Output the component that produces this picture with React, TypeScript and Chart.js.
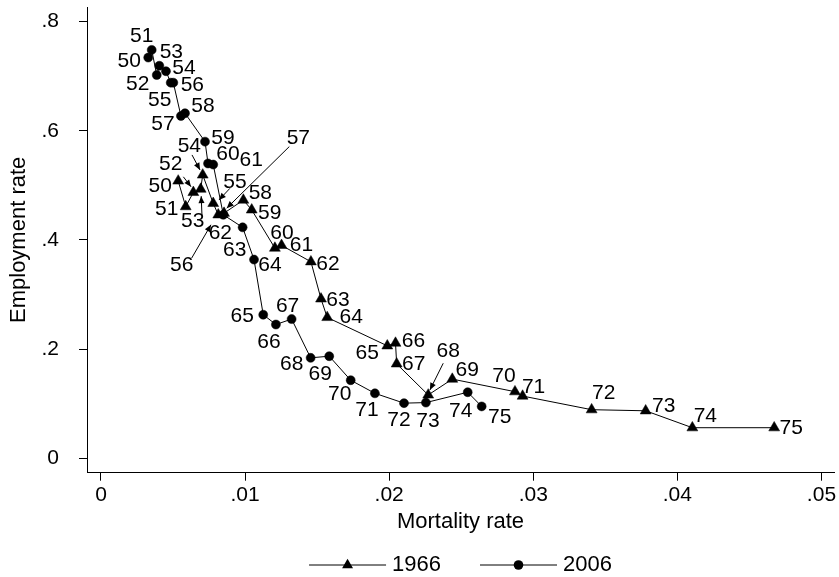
import React, { useEffect, useRef } from "react";
import { Chart, registerables } from "chart.js";

Chart.register(...registerables);

// ---------- data ----------
const ages = [50, 51, 52, 53, 54, 55, 56, 57, 58, 59, 60, 61, 62, 63, 64, 65, 66, 67, 68, 69, 70, 71, 72, 73, 74, 75];

const mortality1966 = [
  0.00536, 0.00588, 0.00641, 0.00692, 0.00706, 0.00779, 0.00814, 0.00854, 0.00988, 0.01046,
  0.01207, 0.01253, 0.01457, 0.01527, 0.0157, 0.01987, 0.02044, 0.02052, 0.02271, 0.02438,
  0.02873, 0.02926, 0.03405, 0.0378, 0.04104, 0.04672,
];
const employment1966 = [
  0.508, 0.461, 0.487, 0.493, 0.519, 0.467, 0.446, 0.449, 0.473, 0.455,
  0.385, 0.39, 0.36, 0.292, 0.258, 0.206, 0.211, 0.173, 0.116, 0.145,
  0.122, 0.114, 0.089, 0.087, 0.056, 0.056,
];

const mortality2006 = [
  0.00328, 0.00352, 0.00387, 0.00405, 0.00451, 0.00484, 0.00502, 0.00555, 0.00583, 0.00722,
  0.00743, 0.00779, 0.00849, 0.00983, 0.01062, 0.01126, 0.01214, 0.01323, 0.01455, 0.01584,
  0.01733, 0.01901, 0.02103, 0.02255, 0.02545, 0.02642,
];
const employment2006 = [
  0.734, 0.748, 0.702, 0.719, 0.709, 0.688, 0.688, 0.627, 0.632, 0.58,
  0.54, 0.538, 0.446, 0.423, 0.364, 0.263, 0.245, 0.255, 0.184, 0.187,
  0.143, 0.119, 0.101, 0.102, 0.121, 0.095,
];

const seriesNames = ["1966", "2006"];

const xTickValues = [0, 0.01, 0.02, 0.03, 0.04, 0.05];
const xTickLabels = ["0", ".01", ".02", ".03", ".04", ".05"];
const yTickValues = [0, 0.2, 0.4, 0.6, 0.8];
const yTickLabels = ["0", ".2", ".4", ".6", ".8"];

const xTitle = "Mortality rate";
const yTitle = "Employment rate";

// ---------- label placement (pixel offsets of the age label from its marker;
// six numbers = label offset, arrow start offset, arrow end offset) ----------
const place1966: number[][] = [
  [-18, 5],
  [-19, 3],
  [-22.6, -28, -10, -15.6, -2.3, -5.6],
  [-8, 32.4, 1.3, 26.7, 0.5, 7],
  [-13.4, -28.3, -10.7, -20, -2.7, -5],
  [21.7, -21.6, 16.7, -15, 5.7, -3.3],
  [-36.6, 50, -26.6, 43.3, -7.3, 10],
  [74.3, -75, 65.3, -66.6, 2.7, -5],
  [17, -7],
  [18, 3],
  [7, -15],
  [20, 0],
  [17, 2],
  [17, 1],
  [24, 0],
  [-20, 7],
  [18, -2],
  [17, 0],
  [20, -43.3, 15, -31.7, 1.7, -5],
  [15, -9],
  [-11, -15],
  [11, -9],
  [12, -16],
  [18, -5],
  [13, -12],
  [17, 0],
];
const place2006: number[][] = [
  [-19, 4],
  [-10, -14],
  [-19, 9],
  [12, -14],
  [18, -3],
  [-11, 18],
  [19, 3],
  [-18, 8],
  [18, -7],
  [18, -3],
  [20, -9],
  [38, -4.5],
  [-3, 18],
  [-8, 23],
  [16, 6],
  [-21, 2],
  [-7, 18],
  [-4, -13],
  [-19, 6],
  [-9, 18],
  [-11, 14],
  [-8, 17],
  [-5, 17],
  [2, 19],
  [-7, 19],
  [18, 11],
];

const FONT = "'Liberation Sans', Arial, Helvetica, sans-serif";

const labelPlugin = {
  id: "ageLabels",
  afterDatasetsDraw(chart: any) {
    const ctx = chart.ctx as CanvasRenderingContext2D;
    const places = [place1966, place2006];
    ctx.save();
    ctx.font = `21px ${FONT}`;
    ctx.fillStyle = "#000";
    ctx.strokeStyle = "#000";
    ctx.lineWidth = 1;
    ctx.textAlign = "center";
    ctx.textBaseline = "middle";
    chart.data.datasets.forEach((ds: any, di: number) => {
      const meta = chart.getDatasetMeta(di);
      meta.data.forEach((el: any, i: number) => {
        const p = places[di][i];
        if (!p) return;
        const px = el.x;
        const py = el.y;
        ctx.fillText(String(ages[i]), px + p[0], py + p[1]);
        if (p.length === 6) {
          const sx = px + p[2];
          const sy = py + p[3];
          const ex = px + p[4];
          const ey = py + p[5];
          ctx.beginPath();
          ctx.moveTo(sx, sy);
          ctx.lineTo(ex, ey);
          ctx.stroke();
          const ang = Math.atan2(ey - sy, ex - sx);
          const L = 7;
          const W = 3;
          ctx.beginPath();
          ctx.moveTo(ex, ey);
          ctx.lineTo(ex - L * Math.cos(ang) + W * Math.sin(ang), ey - L * Math.sin(ang) - W * Math.cos(ang));
          ctx.lineTo(ex - L * Math.cos(ang) - W * Math.sin(ang), ey - L * Math.sin(ang) + W * Math.cos(ang));
          ctx.closePath();
          ctx.fill();
        }
      });
    });
    ctx.restore();
  },
};

const legendPlugin = {
  id: "lineLegend",
  afterDraw(chart: any) {
    const ctx = chart.ctx as CanvasRenderingContext2D;
    const area = chart.chartArea;
    const y = 565;
    const lineLen = 77;
    const gapText = 6;
    const gapItems = 39;
    ctx.save();
    ctx.font = `22px ${FONT}`;
    const widths = seriesNames.map((n) => ctx.measureText(n).width);
    const total = lineLen * 2 + gapText * 2 + gapItems + widths[0] + widths[1];
    let x = (area.left + area.right) / 2 - total / 2;
    ctx.strokeStyle = "#000";
    ctx.fillStyle = "#000";
    ctx.lineWidth = 1;
    seriesNames.forEach((name, i) => {
      ctx.beginPath();
      ctx.moveTo(x, y);
      ctx.lineTo(x + lineLen, y);
      ctx.stroke();
      const mx = x + lineLen / 2;
      ctx.beginPath();
      if (i === 0) {
        const r = 6.3;
        ctx.moveTo(mx, y - r);
        ctx.lineTo(mx + r * Math.sin((2 * Math.PI) / 3), y + r / 2);
        ctx.lineTo(mx - r * Math.sin((2 * Math.PI) / 3), y + r / 2);
        ctx.closePath();
      } else {
        ctx.arc(mx, y, 4.8, 0, Math.PI * 2);
      }
      ctx.fill();
      ctx.textAlign = "left";
      ctx.textBaseline = "middle";
      ctx.fillText(name, x + lineLen + gapText, y);
      x += lineLen + gapText + widths[i] + gapItems;
    });
    ctx.restore();
  },
};

const zeroPad = (s: any) => {
  s.paddingTop = 0;
  s.paddingBottom = 0;
  s.paddingLeft = 0;
  s.paddingRight = 0;
};

export default function App() {
  const canvasRef = useRef<HTMLCanvasElement | null>(null);

  useEffect(() => {
    if (!canvasRef.current) return;
    const d1966 = mortality1966.map((m, i) => ({ x: m, y: employment1966[i] }));
    const d2006 = mortality2006.map((m, i) => ({ x: m, y: employment2006[i] }));

    const chart = new Chart(canvasRef.current, {
      type: "scatter",
      data: {
        datasets: [
          {
            label: seriesNames[0],
            data: d1966,
            showLine: true,
            borderColor: "#000",
            borderWidth: 1,
            backgroundColor: "#000",
            pointStyle: "triangle",
            pointRadius: 6.3,
            pointBorderWidth: 0.5,
            pointBorderColor: "#000",
            pointBackgroundColor: "#000",
          },
          {
            label: seriesNames[1],
            data: d2006,
            showLine: true,
            borderColor: "#000",
            borderWidth: 1,
            backgroundColor: "#000",
            pointStyle: "circle",
            pointRadius: 4.5,
            pointBorderWidth: 0.5,
            pointBorderColor: "#000",
            pointBackgroundColor: "#000",
          },
        ],
      },
      options: {
        animation: false,
        responsive: false,
        devicePixelRatio: 1,
        layout: { autoPadding: false, padding: { top: 7, right: 5, left: 0, bottom: 0 } },
        plugins: {
          legend: { display: false },
          tooltip: { enabled: false },
        },
        scales: {
          x: {
            type: "linear",
            min: -0.00097,
            max: 0.05087,
            afterBuildTicks: (s: any) => {
              s.ticks = xTickValues.map((v) => ({ value: v }));
            },
            afterFit: (s: any) => {
              s.height = 104.3;
              zeroPad(s);
            },
            ticks: {
              callback: (_v: any, i: number) => xTickLabels[i],
              font: { family: FONT, size: 21 },
              color: "#000",
              padding: 2,
              maxRotation: 0,
              autoSkip: false,
            },
            grid: {
              drawOnChartArea: false,
              drawTicks: true,
              tickLength: 8,
              tickColor: "#000",
              color: "#000",
            },
            border: { display: true, color: "#000", width: 1 },
            title: {
              display: true,
              text: xTitle,
              color: "#000",
              font: { family: FONT, size: 22 },
              padding: { top: 0, bottom: 42 },
            },
          },
          y: {
            type: "linear",
            min: -0.0264,
            max: 0.8266,
            afterBuildTicks: (s: any) => {
              s.ticks = yTickValues.map((v) => ({ value: v }));
            },
            afterFit: (s: any) => {
              s.width = 87;
              zeroPad(s);
            },
            ticks: {
              callback: (_v: any, i: number) => yTickLabels[i],
              font: { family: FONT, size: 21 },
              color: "#000",
              padding: 20,
              autoSkip: false,
            },
            grid: {
              drawOnChartArea: false,
              drawTicks: true,
              tickLength: 8,
              tickColor: "#000",
              color: "#000",
            },
            border: { display: true, color: "#000", width: 1 },
            title: {
              display: true,
              text: yTitle,
              color: "#000",
              font: { family: FONT, size: 22 },
              padding: { top: 6, bottom: 0 },
            },
          },
        },
      },
      plugins: [labelPlugin, legendPlugin],
    });
    return () => chart.destroy();
  }, []);

  return (
    <div style={{ position: "absolute", left: 0, top: 0, width: 839, height: 577, background: "#fff" }}>
      <canvas ref={canvasRef} width={839} height={577} style={{ display: "block" }} />
    </div>
  );
}
